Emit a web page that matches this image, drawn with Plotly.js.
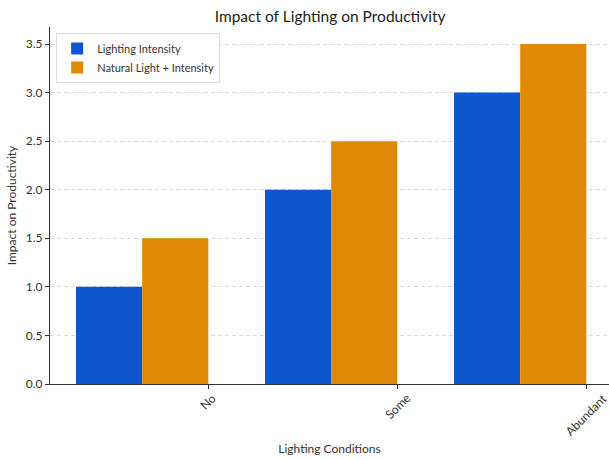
<!DOCTYPE html>
<html>
<head>
<meta charset="utf-8">
<script src="https://cdn.plot.ly/plotly-3.0.1.min.js"></script>
<style>html,body{margin:0;padding:0;background:#fff}#chart{width:609px;height:460px}</style>
</head>
<body>
<div id="chart"></div>
<script>
const categories = ["No", "Some", "Abundant"];
const lightingIntensity = [1.0, 2.0, 3.0];
const naturalPlusIntensity = [1.5, 2.5, 3.5];
const seriesNames = ["Lighting Intensity", "Natural Light + Intensity"];
const yTickVals = [0, 0.5, 1.0, 1.5, 2.0, 2.5, 3.0, 3.5];

const barW = 0.35;
const idx = categories.map((c, i) => i);
const blueX = idx.map(i => i);
const orangeX = idx.map(i => i + barW);
const tickX = idx.map(i => i + barW * 1.5);
const FONT = "Lato, 'DejaVu Sans', sans-serif";

const traces = [
  {type: "bar", name: seriesNames[0], x: blueX, y: lightingIntensity, width: barW,
   marker: {color: "#0e56cc", line: {width: 0}}, hoverinfo: "y"},
  {type: "bar", name: seriesNames[1], x: orangeX, y: naturalPlusIntensity, width: barW,
   marker: {color: "#df8a06", line: {width: 0}}, hoverinfo: "y"}
];

const annotations = categories.map((c, i) => ({
  text: c, x: tickX[i], xref: "x", y: -0.011, yref: "paper",
  xanchor: "center", yanchor: "top", textangle: -45, showarrow: false,
  font: {family: FONT, size: 12, color: "#333"}
}));

const layout = {
  width: 609, height: 460,
  margin: {l: 50, r: 0, t: 27, b: 76},
  paper_bgcolor: "#fff", plot_bgcolor: "#fff",
  barmode: "overlay",
  showlegend: true,
  title: {text: "Impact of Lighting on Productivity", x: 0.542, xanchor: "center", y: 0.963, yanchor: "middle",
          font: {family: FONT, size: 15.5, color: "#222"}},
  xaxis: {
    range: [-0.3126, 2.645], tickvals: tickX, ticktext: categories.map(() => ""),
    ticks: "outside", ticklen: 4, tickcolor: "#333", showgrid: false, zeroline: false,
    showline: true, linecolor: "#333", linewidth: 1,
    title: {text: "Lighting Conditions", standoff: 54, font: {family: FONT, size: 12, color: "#333"}},
    automargin: false,
    fixedrange: true
  },
  yaxis: {
    range: [0, 3.675], tickvals: yTickVals, tickformat: ".1f",
    ticks: "outside", ticklen: 4, tickcolor: "#333",
    showgrid: true, gridcolor: "#d9d9d9", griddash: "4px,3px", gridwidth: 1,
    zeroline: false, showline: true, linecolor: "#333", linewidth: 1,
    tickfont: {family: FONT, size: 12, color: "#333"},
    title: {text: "Impact on Productivity", standoff: 6, font: {family: FONT, size: 12, color: "#333"}},
    automargin: false,
    fixedrange: true
  },
  legend: {x: 0.011, y: 0.983, xanchor: "left", yanchor: "top", bgcolor: "#fff",
           bordercolor: "#ddd", borderwidth: 1, font: {family: FONT, size: 11, color: "#333"},
           tracegroupgap: 0, itemwidth: 30},
  annotations: annotations
};

Plotly.newPlot("chart", traces, layout, {displayModeBar: false, staticPlot: true});
</script>
</body>
</html>
